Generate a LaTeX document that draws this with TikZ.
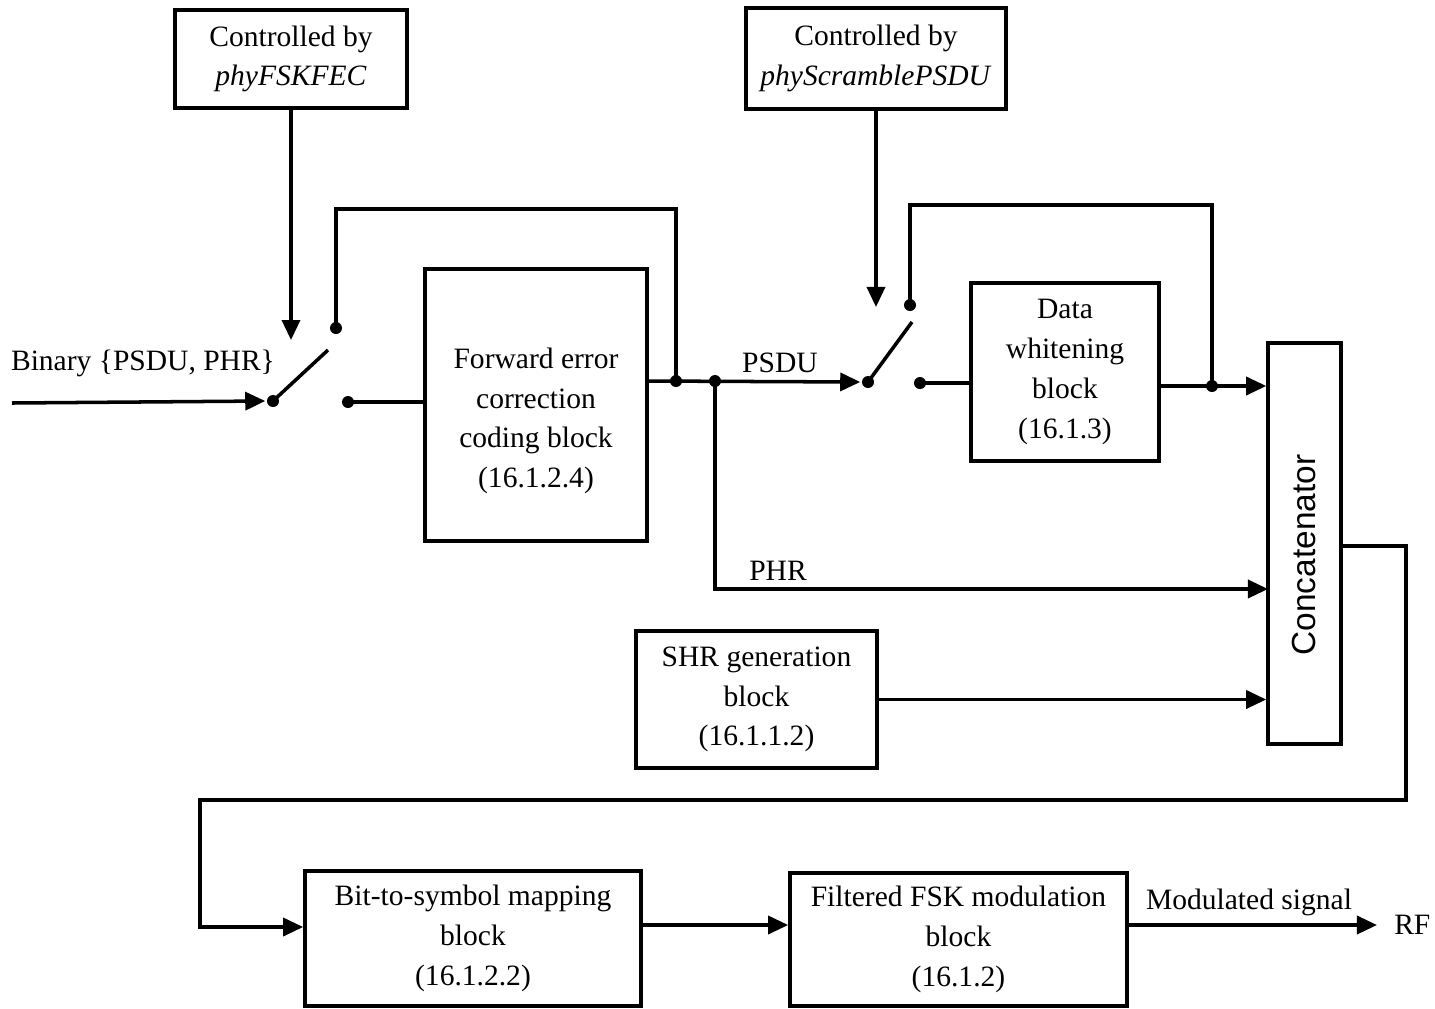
\documentclass[tikz,border=0pt]{standalone}
\usepackage{fontspec}
\setmainfont{Liberation Serif}
\setsansfont{Liberation Sans}
\usepackage{tikz}
\usetikzlibrary{arrows.meta,positioning,calc}

\begin{document}
\begin{tikzpicture}[x=0.01cm,y=-0.01cm,line width=1pt,
  >={Triangle[length=2mm,width=1.8mm]},
  blk/.style={draw,align=center,inner sep=1pt,font=\fontsize{8.4}{11.3}\selectfont},
  txt/.style={inner sep=1pt,align=center,font=\fontsize{8.4}{11.3}\selectfont},
  dot/.style={circle,fill,inner sep=0pt,minimum size=0.12cm}]
 \useasboundingbox (0,0) rectangle (1435,1008);
 % boxes
 \node[blk,minimum width=2.32cm,minimum height=0.98cm] (ctrlfec) at (291,59) {Controlled by\\\textit{phyFSKFEC}};
 \node[blk,minimum width=2.60cm,minimum height=1.01cm] (ctrlscr) at (876,58.5) {Controlled by\\\textit{phyScramblePSDU}};
 \node[draw,minimum width=2.22cm,minimum height=2.72cm] (fec) at (536,405) {};
 \node[txt] (fectxt) at (536,421) {Forward error\\correction\\coding block\\(16.1.2.4)};
 \node[blk,minimum width=1.88cm,minimum height=1.78cm] (dw) at (1065,372) {Data\\whitening\\block\\(16.1.3)};
 \node[draw,minimum width=0.73cm,minimum height=4.01cm] (concat) at (1304.5,543.5) {};
 \node[rotate=90,font=\sffamily\fontsize{9.5}{11}\selectfont] (concattxt) at (1304,555) {Concatenator};
 \node[blk,minimum width=2.41cm,minimum height=1.37cm] (shr) at (756.5,699.5) {SHR generation\\block\\(16.1.1.2)};
 \node[blk,minimum width=3.36cm,minimum height=1.35cm] (bts) at (473,938.5) {Bit-to-symbol mapping\\block\\(16.1.2.2)};
 \node[blk,minimum width=3.37cm,minimum height=1.33cm] (fsk) at (958.5,939.5) {Filtered FSK modulation\\block\\(16.1.2)};
 % labels
 \node[txt] (binlbl) at (143,363) {Binary \{PSDU, PHR\}};
 \node[txt] (psdulbl) at (780,363) {PSDU};
 \node[txt] (phrlbl) at (778,571) {PHR};
 \node[txt,anchor=west] (rf) at (1389,925) {RF};
 \node[txt] (modlbl) at (1249,902) {Modulated signal};
 % switch 1
 \coordinate (in) at (12,403);
 \node[dot] (piv1) at (273,401) {};
 \node[dot] (up1) at (336,328) {};
 \node[dot] (lo1) at (348,402) {};
 \coordinate (blade1) at (328,350);
 \coordinate (tip1) at (291,340);
 \coordinate (top1) at (676,209);
 \node[dot] (j1) at (676,381) {};
 \node[dot] (j2) at (715,381) {};
 % switch 2
 \node[dot] (piv2) at (868,382) {};
 \node[dot] (up2) at (910,305) {};
 \node[dot] (lo2) at (920,383) {};
 \coordinate (blade2) at (912,322);
 \coordinate (tip2) at (876,307);
 \coordinate (top2) at (1212,205);
 \node[dot] (j3) at (1212,386) {};
 \coordinate (phr) at (1268,589);
 % output path
 \coordinate (cout) at (1406,546);
 \coordinate (back) at (200,800);
 \coordinate (btsin) at (305,927);
 \coordinate (mid) at (700,925);

 \draw[->] (ctrlfec.south) -- (tip1);
 \draw[->] (ctrlscr.south) -- (tip2);
 \draw[->] (in) -- (piv1.west);
 \draw (piv1.center) -- (blade1);
 \draw (lo1.center) -- (lo1 -| fec.west);
 \draw (up1.center) |- (top1) -- (j1.center);
 \draw[->] (fec.east |- j1) -- (piv2.west);
 \draw (piv2.center) -- (blade2);
 \draw (lo2.center) -- (lo2 -| dw.west);
 \draw (up2.center) |- (top2) -- (j3.center);
 \draw[->] (dw.east |- j3) -- (concat.west |- j3);
 \draw[->] (j2.center) |- (phr);
 \draw[->] (shr.east) -- (concat.west |- shr.east);
 \draw[->] (concat.east |- cout) -- (cout) |- (back) |- (bts.west |- btsin);
 \draw[->] (bts.east |- mid) -- (fsk.west |- mid);
 \draw[->,shorten >=0.12cm] (fsk.east |- rf) -- (rf.west);
\end{tikzpicture}
\end{document}
